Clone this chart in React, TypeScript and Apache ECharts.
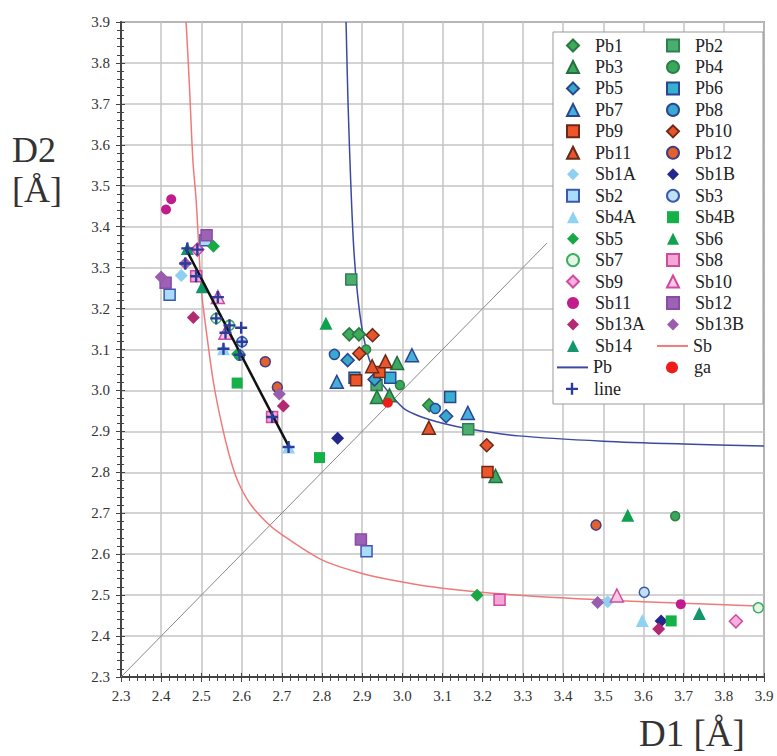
import React, { useEffect, useRef } from "react";
import * as echarts from "echarts";

// ---- data (D1, D2) ----
const pb1 = [[2.868, 3.137], [2.892, 3.137], [3.067, 2.964]];
const pb2 = [[2.873, 3.271], [2.936, 3.013], [3.164, 2.905]];
const pb3 = [[2.987, 3.067], [2.937, 2.984], [2.968, 2.988], [3.232, 2.791]];
const pb4 = [[2.91, 3.1], [2.994, 3.013], [3.679, 2.693]];
const pb5 = [[2.864, 3.074], [2.931, 3.027], [3.109, 2.937]];
const pb6 = [[2.881, 3.031], [2.97, 3.031], [3.119, 2.984]];
const pb7 = [[3.024, 3.086], [2.837, 3.021], [3.163, 2.945]];
const pb8 = [[2.831, 3.088], [3.082, 2.956]];
const pb9 = [[2.943, 3.045], [2.885, 3.025], [3.212, 2.801]];
const pb10 = [[2.926, 3.135], [2.893, 3.09], [3.21, 2.866]];
const pb11 = [[2.925, 3.059], [2.958, 3.071], [3.066, 2.909]];
const pb12 = [[2.659, 3.07], [2.689, 3.008], [3.482, 2.671]];
const sb1A = [[2.45, 3.281], [3.511, 2.484]];
const sb1B = [[2.839, 2.883], [3.644, 2.437]];
const sb2 = [[2.51, 3.367], [2.421, 3.234], [2.911, 2.607]];
const sb3 = [[2.601, 3.119], [2.595, 3.086], [3.602, 2.507]];
const sb4A = [[2.555, 3.102], [2.717, 2.862], [3.597, 2.438]];
const sb4B = [[2.589, 3.018], [2.794, 2.836], [3.669, 2.437]];
const sb5 = [[2.53, 3.352], [2.59, 3.089], [3.186, 2.5]];
const sb6 = [[2.81, 3.164], [3.561, 2.695]];
const sb7 = [[2.537, 3.176], [2.57, 3.159], [3.886, 2.469]];
const sb8 = [[2.487, 3.279], [2.676, 2.935], [3.242, 2.489]];
const sb9 = [[2.49, 3.344], [3.83, 2.436]];
const sb10 = [[2.541, 3.228], [2.56, 3.141], [3.534, 2.499]];
const sb11 = [[2.425, 3.467], [2.412, 3.442], [3.693, 2.478]];
const sb12 = [[2.513, 3.379], [2.411, 3.263], [2.897, 2.636]];
const sb13A = [[2.48, 3.178], [2.704, 2.962], [3.638, 2.417]];
const sb13B = [[2.4, 3.277], [2.46, 3.31], [2.694, 2.991], [3.486, 2.482]];
const sb14 = [[2.465, 3.347], [2.502, 3.253], [3.739, 2.455]];
const ga = [[2.964, 2.97]];
const linePts = [
  [2.465, 3.347], [2.49, 3.344], [2.46, 3.31], [2.487, 3.279], [2.541, 3.228],
  [2.537, 3.176], [2.57, 3.159], [2.56, 3.141], [2.599, 3.153], [2.601, 3.119],
  [2.555, 3.102], [2.595, 3.087], [2.676, 2.935], [2.717, 2.862],
];
const sbCurve = [
  [2.462, 3.9], [2.47, 3.75], [2.479, 3.56], [2.487, 3.465], [2.5, 3.245],
  [2.512, 3.147], [2.53, 3.02], [2.55, 2.92], [2.57, 2.84], [2.59, 2.78],
  [2.62, 2.725], [2.66, 2.68], [2.7, 2.648], [2.8, 2.586], [2.9, 2.553], [3.0, 2.532],
  [3.1, 2.517], [3.3, 2.499], [3.5, 2.488], [3.7, 2.48], [3.9, 2.473],
];
const pbCurve = [
  [2.86, 3.9], [2.865, 3.7], [2.872, 3.5], [2.879, 3.35], [2.888, 3.24], [2.9, 3.15],
  [2.918, 3.075], [2.943, 3.025], [2.976, 2.984], [3.005, 2.955], [3.043, 2.937],
  [3.1, 2.92], [3.167, 2.906], [3.29, 2.889], [3.5, 2.876], [3.7, 2.869], [3.9, 2.864],
];
const fitLine = [[2.462, 3.345], [2.718, 2.862]];
const diagonal = [[2.3, 2.3], [3.36, 3.36]];

const col1Markers = ["Pb1", "Pb3", "Pb5", "Pb7", "Pb9", "Pb11", "Sb1A", "Sb2", "Sb4A", "Sb5", "Sb7", "Sb9", "Sb11", "Sb13A", "Sb14"];
const col1Tail = ["Pb", "line"];
const col2Markers = ["Pb2", "Pb4", "Pb6", "Pb8", "Pb10", "Pb12", "Sb1B", "Sb3", "Sb4B", "Sb6", "Sb8", "Sb10", "Sb12", "Sb13B"];
const col2Tail = ["Sb", "ga"];

const PLUS = "path://M4,0H6V4H10V6H6V10H4V6H0V4H4Z";

type Sty = { data: number[][]; symbol: string; size: number; fill: string; stroke?: string };
const scatterDefs: Record<string, Sty> = {
  Pb1: { data: pb1, symbol: "diamond", size: 13, fill: "#3daa5c", stroke: "#2a7a40" },
  Pb2: { data: pb2, symbol: "rect", size: 11, fill: "#4cae6e", stroke: "#2e8050" },
  Pb3: { data: pb3, symbol: "triangle", size: 13, fill: "#3aa860", stroke: "#23703c" },
  Pb4: { data: pb4, symbol: "circle", size: 9, fill: "#3aa85a", stroke: "#2d8048" },
  Pb5: { data: pb5, symbol: "diamond", size: 13, fill: "#35a8cc", stroke: "#2b4590" },
  Pb6: { data: pb6, symbol: "rect", size: 11, fill: "#35b0d0", stroke: "#2b4590" },
  Pb7: { data: pb7, symbol: "triangle", size: 13, fill: "#45b0dc", stroke: "#2b4590" },
  Pb8: { data: pb8, symbol: "circle", size: 10, fill: "#3aa8d4", stroke: "#2b4590" },
  Pb9: { data: pb9, symbol: "rect", size: 11, fill: "#ee5528", stroke: "#6a2a18" },
  Pb10: { data: pb10, symbol: "diamond", size: 13, fill: "#e8552c", stroke: "#6a2a18" },
  Pb11: { data: pb11, symbol: "triangle", size: 13, fill: "#e8552c", stroke: "#6a2a18" },
  Pb12: { data: pb12, symbol: "circle", size: 10, fill: "#e0632e", stroke: "#4a3a80" },
  Sb1A: { data: sb1A, symbol: "diamond", size: 13, fill: "#8fd0f2" },
  Sb1B: { data: sb1B, symbol: "diamond", size: 13, fill: "#23288c" },
  Sb2: { data: sb2, symbol: "rect", size: 11, fill: "#a8dcf8", stroke: "#3a58b0" },
  Sb3: { data: sb3, symbol: "circle", size: 10, fill: "#c0e0f4", stroke: "#3a58b0" },
  Sb4A: { data: sb4A, symbol: "triangle", size: 13, fill: "#90d2f2" },
  Sb4B: { data: sb4B, symbol: "rect", size: 11, fill: "#14b048" },
  Sb5: { data: sb5, symbol: "diamond", size: 13, fill: "#18a845" },
  Sb6: { data: sb6, symbol: "triangle", size: 13, fill: "#0fa050" },
  Sb7: { data: sb7, symbol: "circle", size: 10, fill: "#e6f6e6", stroke: "#3ab060" },
  Sb8: { data: sb8, symbol: "rect", size: 11, fill: "#f4a6d6", stroke: "#d04aa0" },
  Sb9: { data: sb9, symbol: "diamond", size: 13, fill: "#f6b0dc", stroke: "#d04aa0" },
  Sb10: { data: sb10, symbol: "triangle", size: 13, fill: "#f8c8e4", stroke: "#d04aa0" },
  Sb11: { data: sb11, symbol: "circle", size: 10, fill: "#c21c8c" },
  Sb12: { data: sb12, symbol: "rect", size: 11, fill: "#9c62b4", stroke: "#8a4aa8" },
  Sb13A: { data: sb13A, symbol: "diamond", size: 13, fill: "#b42a72" },
  Sb13B: { data: sb13B, symbol: "diamond", size: 13, fill: "#9a5cac" },
  Sb14: { data: sb14, symbol: "triangle", size: 13, fill: "#12966a" },
  ga: { data: ga, symbol: "circle", size: 10, fill: "#f01c1c" },
};

const FAMILY = "Liberation Serif";
const FONT = "'Liberation Serif', serif";
const ROW = 21.46;
const LEG_TOP = 36.5;

export default function App() {
  const ref = useRef<HTMLDivElement>(null);
  useEffect(() => {
    if (!ref.current) return;
    const chart = echarts.init(ref.current, null, { renderer: "svg" });
    const scatterSeries = Object.keys(scatterDefs).map((name) => {
      const d = scatterDefs[name];
      return {
        name,
        type: "scatter",
        data: d.data,
        symbol: d.symbol,
        symbolSize: d.size,
        symbolKeepAspect: true,
        z: 3,
        itemStyle: {
          color: d.fill,
          borderColor: d.stroke || d.fill,
          borderWidth: d.stroke ? 1.5 : 0,
          opacity: 1,
        },
      };
    });
    const labelStyle = {
      fontFamily: FAMILY,
      fontSize: 15,
      color: "#333",
      margin: 11,
      formatter: (v: number) => `{s|${v.toFixed(1)}}`,
      rich: { s: { fontFamily: FAMILY, fontSize: 15, color: "#333" } },
    };
    const axisCommon = {
      type: "value",
      min: 2.3,
      max: 3.9,
      interval: 0.1,
      axisLine: { show: true, onZero: false, lineStyle: { color: "#444", width: 2 } },
      axisTick: { show: true, inside: false, length: 5, lineStyle: { color: "#444", width: 1 } },
      minorTick: { show: true, splitNumber: 5, length: 4, lineStyle: { color: "#444", width: 1 } },
      splitLine: { show: true, lineStyle: { color: "#c4c4c4", width: 1.5 } },
      axisLabel: labelStyle,
    };
    const innerAxis = {
      type: "value",
      min: 2.3,
      max: 3.9,
      interval: 0.1,
      axisLine: { show: false },
      axisTick: { show: true, inside: true, length: 4, lineStyle: { color: "#444", width: 1 } },
      minorTick: { show: true, splitNumber: 5, length: 3, lineStyle: { color: "#444", width: 1 } },
      splitLine: { show: false },
      axisLabel: { show: false },
    };
    const legendBase = {
      orient: "vertical",
      itemHeight: 12,
      itemGap: ROW - 18,
      selectedMode: false,
      padding: 0,
      z: 6,
      symbolKeepAspect: true,
    };
    const markerText = {
      fontFamily: FAMILY,
      fontSize: 18,
      lineHeight: 18,
      color: "#222",
      padding: [0, 0, 0, 11],
    };
    const lineText = { fontFamily: FAMILY, fontSize: 18, lineHeight: 18, color: "#222" };
    const lineLegend = (name: string, left: number, top: number) => ({
      ...legendBase,
      data: [{ name, icon: "rect" }],
      left,
      top,
      itemWidth: 31,
      itemHeight: 2,
      itemGap: 0,
      textStyle: lineText,
    });
    const legends = [
      { ...legendBase, data: col1Markers, left: 566, top: LEG_TOP, itemWidth: 12, textStyle: markerText },
      lineLegend(col1Tail[0], 557, LEG_TOP + 15 * ROW),
      { ...legendBase, data: [col1Tail[1]], left: 566, top: LEG_TOP + 16 * ROW, itemWidth: 12, textStyle: markerText },
      { ...legendBase, data: col2Markers, left: 666, top: LEG_TOP, itemWidth: 12, textStyle: markerText },
      lineLegend(col2Tail[0], 657, LEG_TOP + 14 * ROW),
      { ...legendBase, data: [col2Tail[1]], left: 666, top: LEG_TOP + 15 * ROW, itemWidth: 12, textStyle: markerText },
    ];
    chart.setOption({
      animation: false,
      backgroundColor: "#fff",
      textStyle: { fontFamily: FAMILY },
      grid: {
        left: 121,
        top: 22,
        width: 643,
        height: 655,
        show: true,
        borderColor: "#666",
        borderWidth: 1.5,
        backgroundColor: "transparent",
      },
      xAxis: [
        { ...axisCommon, position: "bottom" },
        { ...innerAxis, position: "bottom" },
      ],
      yAxis: [
        { ...axisCommon, position: "left" },
        { ...innerAxis, position: "left" },
      ],
      legend: legends,
      graphic: [
        {
          type: "rect",
          z: 5,
          shape: { x: 553, y: 32, width: 210, height: 372 },
          style: { fill: "#fff", stroke: "#999", lineWidth: 1 },
        },
        {
          type: "text",
          left: 12,
          top: 132,
          style: { text: "D2", font: `36px ${FONT}`, fill: "#333" },
        },
        {
          type: "text",
          left: 12,
          top: 172,
          style: { text: "[Å]", font: `36px ${FONT}`, fill: "#333" },
        },
        {
          type: "text",
          left: 639,
          top: 715,
          style: { text: "D1 [Å]", font: `37px ${FONT}`, fill: "#333" },
        },
      ],
      series: [
        {
          name: "diag",
          type: "line",
          data: diagonal,
          symbol: "none",
          z: 1,
          lineStyle: { color: "#888", width: 1 },
        },
        {
          name: "Sb",
          type: "line",
          data: sbCurve,
          symbol: "none",
          smooth: 0.3,
          z: 2,
          itemStyle: { color: "#f07a7a" },
          lineStyle: { color: "#f07a7a", width: 1.5 },
        },
        {
          name: "Pb",
          type: "line",
          data: pbCurve,
          symbol: "none",
          smooth: 0.3,
          z: 2,
          itemStyle: { color: "#3a4aa0" },
          lineStyle: { color: "#3a4aa0", width: 1.5 },
        },
        ...scatterSeries,
        {
          name: "fit",
          type: "line",
          data: fitLine,
          symbol: "none",
          z: 4,
          lineStyle: { color: "#111", width: 2.5 },
        },
        {
          name: "line",
          type: "scatter",
          data: linePts,
          symbol: PLUS,
          symbolSize: 12,
          symbolKeepAspect: true,
          z: 5,
          itemStyle: { color: "#2c3c9c", opacity: 1 },
        },
      ],
    });
    return () => chart.dispose();
  }, []);
  return (
    <div
      ref={ref}
      style={{ position: "absolute", left: 0, top: 0, width: 777, height: 756 }}
    />
  );
}
